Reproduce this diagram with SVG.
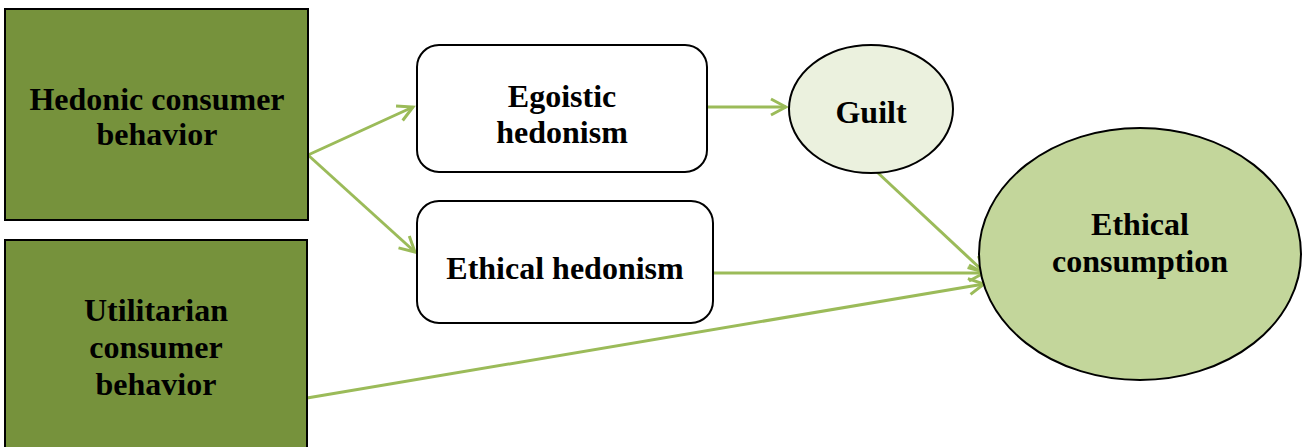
<svg xmlns="http://www.w3.org/2000/svg" width="1305" height="447" viewBox="0 0 1305 447">
<defs>
<style>
text{font-family:"Liberation Serif","Times New Roman",serif;font-weight:bold;font-size:32px;fill:#000;text-anchor:middle}
.dark{fill:#76923C;stroke:#000;stroke-width:2}
.wbox{fill:#fff;stroke:#000;stroke-width:2}
.conn{stroke:#9BBB59;stroke-width:3;fill:none;marker-end:url(#arr)}
</style>
<marker id="arr" markerWidth="20" markerHeight="20" refX="17" refY="10" orient="auto" markerUnits="userSpaceOnUse" viewBox="0 0 20 20">
<path d="M2,2 L17,10 L2,18" fill="none" stroke="#9BBB59" stroke-width="3"/>
</marker>
</defs>
<rect width="1305" height="447" fill="#fff"/>
<g id="connectors">
<line class="conn" x1="308" y1="155" x2="413" y2="107"/>
<line class="conn" x1="308" y1="155" x2="415" y2="252"/>
<line class="conn" x1="707" y1="107" x2="786" y2="107"/>
<line class="conn" x1="877" y1="172" x2="984" y2="272"/>
<line class="conn" x1="713" y1="273" x2="984" y2="273"/>
<line class="conn" x1="307" y1="398" x2="984" y2="284"/>
</g>
<g id="hedonic">
<rect class="dark" x="5" y="9" width="303" height="211"/>
<text x="157" y="110">Hedonic consumer</text>
<text x="157" y="145">behavior</text>
</g>
<g id="utilitarian">
<rect class="dark" x="5" y="240" width="302" height="215"/>
<text x="156" y="321">Utilitarian</text>
<text x="156" y="358">consumer</text>
<text x="156" y="395">behavior</text>
</g>
<g id="egoistic">
<rect class="wbox" x="417" y="45" width="290" height="127" rx="22"/>
<text x="562" y="107">Egoistic</text>
<text x="562" y="143">hedonism</text>
</g>
<g id="ethical-hedonism">
<rect class="wbox" x="417" y="201" width="296" height="122" rx="22"/>
<text x="565" y="279">Ethical hedonism</text>
</g>
<g id="guilt">
<ellipse cx="871" cy="109" rx="82" ry="64" fill="#EBF1DE" stroke="#000" stroke-width="2"/>
<text x="871" y="123">Guilt</text>
</g>
<g id="ethical-consumption">
<ellipse cx="1140" cy="254" rx="161" ry="126" fill="#C3D69B" stroke="#000" stroke-width="2"/>
<text x="1140" y="235">Ethical</text>
<text x="1140" y="272">consumption</text>
</g>
</svg>
